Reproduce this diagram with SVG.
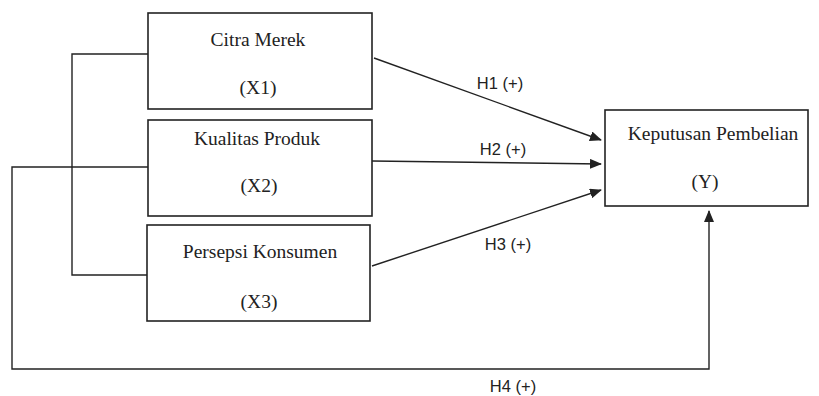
<svg xmlns="http://www.w3.org/2000/svg" width="819" height="396" viewBox="0 0 819 396">
<style>
.box{fill:#fff;stroke:#222;stroke-width:1.6}
.t{font-family:"Liberation Serif","Times New Roman",serif;font-size:19.5px;fill:#222;text-anchor:middle}
.h{font-family:"Liberation Sans",Arial,sans-serif;font-size:16.5px;fill:#222;text-anchor:middle}
.ln{fill:none;stroke:#222;stroke-width:1.4}
</style>
<defs>
<marker id="ah" markerWidth="12" markerHeight="10" refX="11" refY="5" orient="auto" markerUnits="userSpaceOnUse">
<path d="M0,0 L12,5 L0,10 Z" fill="#222"/>
</marker>
</defs>
<rect width="819" height="396" fill="#fff"/>
<g id="connectors">
<polyline class="ln" points="148,54 72,54 72,275 147,275"/>
<polyline class="ln" points="148,167 12,167 12,369 709,369 709,211" marker-end="url(#ah)"/>
<line class="ln" x1="374" y1="58" x2="601" y2="140" marker-end="url(#ah)"/>
<line class="ln" x1="372" y1="161" x2="601" y2="164" marker-end="url(#ah)"/>
<line class="ln" x1="372" y1="266" x2="601" y2="190" marker-end="url(#ah)"/>
<text class="h" x="500" y="89">H1 (+)</text>
<text class="h" x="503" y="155">H2 (+)</text>
<text class="h" x="508" y="250">H3 (+)</text>
<text class="h" x="513" y="392">H4 (+)</text>
</g>
<g id="x1">
<rect class="box" x="148" y="13" width="224" height="96"/>
<text class="t" x="258" y="46">Citra Merek</text>
<text class="t" x="258" y="94">(X1)</text>
</g>
<g id="x2">
<rect class="box" x="148" y="120" width="224" height="96"/>
<text class="t" x="257" y="145">Kualitas Produk</text>
<text class="t" x="259" y="192">(X2)</text>
</g>
<g id="x3">
<rect class="box" x="147" y="225" width="223" height="96"/>
<text class="t" x="260" y="258">Persepsi Konsumen</text>
<text class="t" x="259" y="308">(X3)</text>
</g>
<g id="y">
<rect class="box" x="605" y="110" width="203" height="96"/>
<text class="t" x="713" y="140">Keputusan Pembelian</text>
<text class="t" x="705" y="188">(Y)</text>
</g>
</svg>
